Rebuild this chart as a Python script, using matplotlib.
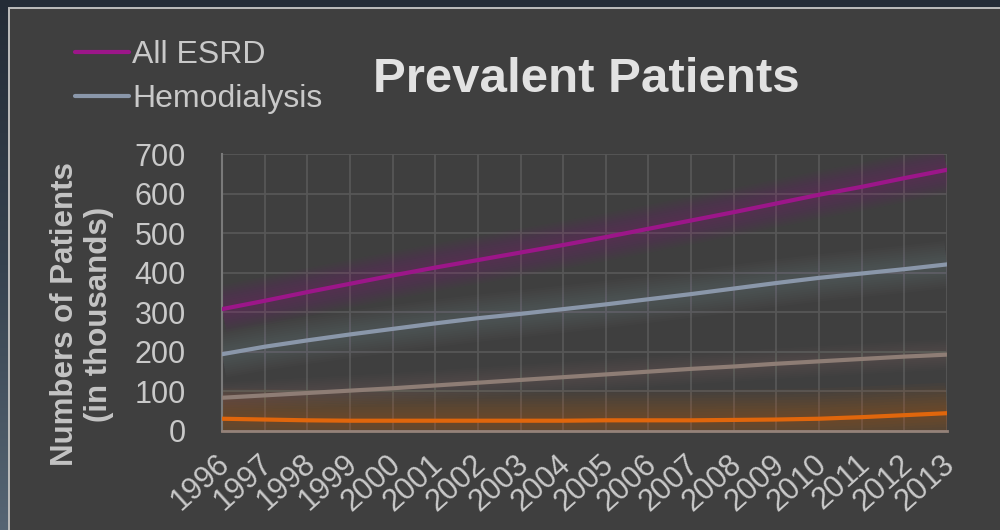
import numpy as np
import matplotlib
matplotlib.use('Agg')
import matplotlib.pyplot as plt
from matplotlib.patches import Rectangle
from matplotlib.colors import LinearSegmentedColormap
from matplotlib.transforms import ScaledTranslation

years = list(range(1996, 2014))
year_labels = [str(y) for y in years]
all_esrd = [308, 329, 351, 372, 393, 413, 432, 451, 470, 490, 511, 532, 553, 575, 597, 617, 639, 660]
hemodialysis = [194, 213, 229, 244, 258, 272, 285, 296, 308, 320, 333, 346, 360, 374, 387, 398, 409, 421]
transplant = [84, 90, 96, 102, 108, 115, 122, 129, 136, 143, 150, 157, 163, 170, 176, 182, 188, 193]
peritoneal = [31, 29, 27, 26, 26, 26, 26, 26, 26, 27, 27, 27, 28, 29, 31, 35, 40, 45]

series_names = ['All ESRD', 'Hemodialysis', 'Transplant', 'Peritoneal Dialysis']
series_vals = [all_esrd, hemodialysis, transplant, peritoneal]
colors = ['#9c1689', '#8a97aa', '#8e7d75', '#e0660c']

plt.rcParams['font.family'] = ['Liberation Sans', 'DejaVu Sans']

W, H = 1000, 530
fig = plt.figure(figsize=(W / 100, H / 100), dpi=100)
fig.patch.set_facecolor('#2a333e')

# background gradient + panel
bg = fig.add_axes([0, 0, 1, 1], zorder=-10)
bg.set_xlim(0, W)
bg.set_ylim(H, 0)
bg.axis('off')
cmap = LinearSegmentedColormap.from_list('bgc', ['#242c37', '#36424f', '#566574'])
grad = np.linspace(0, 1, 256).reshape(-1, 1)
bg.imshow(grad, cmap=cmap, extent=[0, W, H, 0], aspect='auto')
bg.add_patch(Rectangle((9, 8), W + 20, H + 20, facecolor='#3f3f3f',
                       edgecolor='#bdbdbd', linewidth=1.4))

# main axes
x0, x1 = 222, 947
y0, y1 = 154, 431
ax = fig.add_axes([x0 / W, 1 - y1 / H, (x1 - x0) / W, (y1 - y0) / H])
ax.set_facecolor('none')

glow_specs = [
    (np.linspace(8, 34, 9), 0.033),
    (np.linspace(8, 34, 9), 0.028),
    (np.linspace(6, 22, 7), 0.03),
    (np.linspace(8, 44, 10), 0.032),
]
lines = []
for name, vals, col, (widths, a) in zip(series_names, series_vals, colors, glow_specs):
    for lw in widths:
        ax.plot(years, vals, color=col, lw=lw, alpha=a, solid_capstyle='butt', zorder=2)
    ln, = ax.plot(years, vals, color=col, lw=3.0, solid_capstyle='round', zorder=3, label=name)
    lines.append(ln)

ax.set_xlim(1996, 2013)
ax.set_ylim(0, 700)
ax.set_yticks(range(0, 701, 100))
ax.set_xticks(years)
ax.set_xticklabels(year_labels, rotation=42, ha='right', rotation_mode='anchor')
ax.grid(True, color='#575757', lw=1.3, zorder=1)
ax.set_axisbelow(True)
ax.tick_params(axis='both', length=0, labelcolor='#c9c9c9', labelsize=22)
ax.tick_params(axis='y', pad=26)
ax.tick_params(axis='x', pad=13, labelsize=22)
shift = ScaledTranslation(-6 / 100, 0, fig.dpi_scale_trans)
for lab in ax.get_xticklabels():
    lab.set_transform(lab.get_transform() + shift)
for s in ['top', 'right']:
    ax.spines[s].set_visible(False)
ax.spines['left'].set_color('#7a7a7a')
ax.spines['left'].set_linewidth(1.5)
ax.spines['bottom'].set_color('#948279')
ax.spines['bottom'].set_linewidth(2)

fig.text(586 / W, 1 - 80 / H, 'Prevalent Patients', fontsize=35.5, fontweight='bold',
         color='#e2e2e2', ha='center', va='center')
fig.text(82 / W, 1 - 314 / H, 'Numbers of Patients\n(in thousands)', fontsize=22.5,
         fontweight='bold', color='#c4c4c4', ha='center', va='center', rotation=90,
         linespacing=1.2, multialignment='center')

leg = fig.legend(handles=lines[:2], loc='upper left', bbox_to_anchor=(75 / W, 1 - 40 / H),
                 frameon=False, fontsize=23, handlelength=1.7, handletextpad=0.1,
                 labelspacing=0.45, borderaxespad=0, borderpad=0)
for t in leg.get_texts():
    t.set_color('#c9c9c9')

fig.savefig('out.png', dpi=100, facecolor=fig.get_facecolor())
